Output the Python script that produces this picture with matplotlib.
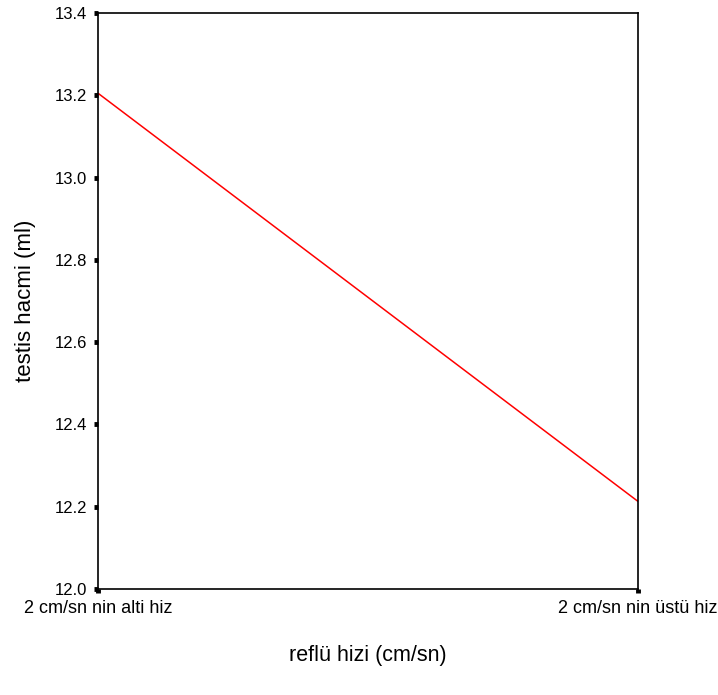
import matplotlib
matplotlib.use("Agg")
import matplotlib.pyplot as plt

plt.rcParams['font.family'] = ['Liberation Sans', 'DejaVu Sans']

# ortalama testis hacmi, reflü hizina gore
gruplar = ["2 cm/sn nin alti hiz", "2 cm/sn nin üstü hiz"]
hacim = [13.205, 12.213]
yticks = [12.0, 12.2, 12.4, 12.6, 12.8, 13.0, 13.2, 13.4]

fig = plt.figure(figsize=(7.18, 6.95), dpi=100)
ax = fig.add_axes([0.1365, 0.1525, 0.752, 0.8288])

x = list(range(len(gruplar)))
ax.plot(x, hacim, color="#ff0000", linewidth=1.1)

ax.set_xlim(0, 1)
ax.set_ylim(12.0, 13.4)
ax.set_xticks(x)
ax.set_xticklabels(gruplar, fontsize=13)
ax.set_yticks(yticks)
ax.set_yticklabels(["%.1f" % v for v in yticks], fontsize=12)
ax.tick_params(direction="out", length=3, width=3.5, color="black", pad=5)

for s in ax.spines.values():
    s.set_linewidth(1.2)

ax.set_ylabel("testis hacmi (ml)", fontsize=16, labelpad=13)
ax.set_xlabel("reflü hizi (cm/sn)", fontsize=15.5, labelpad=20)

fig.savefig("out.png", dpi=100)
